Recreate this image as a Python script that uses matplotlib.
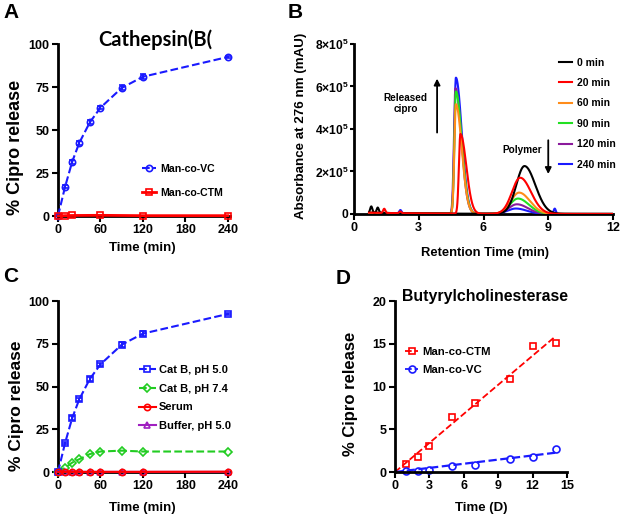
import numpy as np
import matplotlib
matplotlib.use('Agg')
import matplotlib.pyplot as plt
from matplotlib.lines import Line2D

plt.rcParams['font.family'] = ['Liberation Sans', 'DejaVu Sans']
plt.rcParams['font.weight'] = 'bold'
plt.rcParams['mathtext.fontset'] = 'custom'
plt.rcParams['mathtext.rm'] = 'Liberation Sans:bold'
plt.rcParams['mathtext.bf'] = 'Liberation Sans:bold'

# ---- panel A / C : cathepsin B release (time in min)
t_min = [0, 10, 20, 30, 45, 60, 90, 120, 240]
vc_release = [0, 17, 31.5, 42.5, 54.5, 63, 74.5, 81, 92.5]
vc_err = [0, 0.8, 1.2, 1.0, 1.2, 1.0, 1.5, 1.5, 0.8]
t_ctm = [0, 10, 20, 60, 120, 240]
ctm_release = [0, 0.2, 0.3, 0.4, 0.2, 0.2]

catb74 = [0, 2.5, 5.5, 7.5, 10.5, 12, 12.5, 12, 12]
serum = [0, 0.1, 0.1, 0.1, 0.1, 0.1, 0.1, 0.1, 0.2]
buffer = [0, 0.1, 0.1, 0.1, 0.1, 0.1, 0.1, 0.1, 0.1]

# ---- panel B : HPLC traces, peak parameters
trace_labels = ['0 min', '20 min', '60 min', '90 min', '120 min', '240 min']
trace_colors = ['black', 'red', '#ff8c1a', '#22e022', '#8b1a9b', '#1a1aff']
cipro_center = [4.7, 4.93, 4.72, 4.72, 4.7, 4.72]
cipro_height = [0, 3.75e5, 5.15e5, 5.75e5, 5.9e5, 6.4e5]
poly_center = [7.9, 7.7, 7.65, 7.6, 7.55, 7.5]
poly_height = [2.25e5, 1.7e5, 1.0e5, 0.72e5, 0.45e5, 0.25e5]
# small early bumps: (trace index, position, height)
bump_trace = [0, 0, 1, 1, 5, 5]
bump_pos = [0.8, 1.1, 1.4, 2.15, 2.15, 9.3]
bump_height = [3.0e4, 2.5e4, 2.0e4, 0.8e4, 1.5e4, 2.5e4]

# ---- panel D : butyrylcholinesterase (days)
t_day = [1, 2, 3, 5, 7, 10, 12, 14]
ctm_bche = [0.9, 1.8, 3.0, 6.4, 8.1, 10.9, 14.7, 15.1]
vc_bche = [0.1, 0.15, 0.25, 0.65, 0.85, 1.55, 1.8, 2.7]


def style_axis(ax, pad=2):
    for s in ['top', 'right']:
        ax.spines[s].set_visible(False)
    for s in ['left', 'bottom']:
        ax.spines[s].set_linewidth(2)
    ax.tick_params(width=1.5, length=4, labelsize=9, pad=pad)
    for lab in ax.get_xticklabels() + ax.get_yticklabels():
        lab.set_fontweight('bold')


def peak(x, c, h, sl, sr):
    s = np.where(x < c, sl, sr)
    return h * np.exp(-0.5 * ((x - c) / s) ** 2)


def proxy(color, ls, lw, marker, ms=4.5):
    return Line2D([], [], color=color, ls=ls, lw=lw, marker=marker, mfc='none',
                  ms=ms, mew=1.2)


fig = plt.figure(figsize=(6.25, 5.21), dpi=100)

# ================= A
axA = fig.add_axes([0.0928, 0.5854, 0.2752, 0.330])
axA.errorbar(t_min, vc_release, yerr=vc_err, color='#1a1aff', ls='--', lw=1.5,
             marker='o', mfc='none', ms=4.5, mew=1.2, capsize=2,
             clip_on=False, zorder=3)
axA.plot(t_ctm, ctm_release, color='red', ls='-', lw=2, marker='s', mfc='none',
         ms=4.5, mew=1.2, clip_on=False, zorder=4)
axA.set_xlim(0, 243)
axA.set_ylim(0, 100)
axA.set_xticks([0, 60, 120, 180, 240])
axA.set_yticks([0, 25, 50, 75, 100])
axA.set_xlabel('Time (min)', fontsize=9.5, fontweight='bold')
axA.set_ylabel('% Cipro release', fontsize=13, fontweight='bold')
axA.xaxis.set_label_coords(0.49, -0.151)
axA.yaxis.set_label_coords(-0.195, 0.40)
style_axis(axA)
axA.legend([proxy('#1a1aff', '--', 1.5, 'o'), proxy('red', '-', 2, 's')],
           ['Man-co-VC', 'Man-co-CTM'], loc='upper left',
           bbox_to_anchor=(0.49, 0.305), frameon=False,
           fontsize=7.6, handlelength=1.3, handletextpad=0.4, labelspacing=1.35,
           borderpad=0, borderaxespad=0)

# ================= B
axB = fig.add_axes([0.5664, 0.5893, 0.4144, 0.3263])
x = np.linspace(0.7, 12, 1200)
order = [5, 4, 3, 2, 0, 1]
lines_B = {}
for i in order:
    y = peak(x, cipro_center[i], cipro_height[i], 0.07, 0.27)
    y += peak(x, poly_center[i], poly_height[i], 0.38, 0.5)
    y += 6e3 * np.exp(-(x - 0.7) / 3.0)
    for k in range(len(bump_trace)):
        if bump_trace[k] == i:
            y += peak(x, bump_pos[k], bump_height[k], 0.05, 0.05)
    ln, = axB.plot(x, y, color=trace_colors[i], lw=1.5, zorder=3 + order.index(i))
    lines_B[i] = ln
axB.set_xlim(0, 12)
axB.set_ylim(0, 8e5)
axB.set_xticks([0, 3, 6, 9, 12])
axB.set_yticks([0, 2e5, 4e5, 6e5, 8e5])
axB.set_yticklabels(['0', r'$2{\times}10^{5}$', r'$4{\times}10^{5}$',
                     r'$6{\times}10^{5}$', r'$8{\times}10^{5}$'])
axB.set_xlabel('Retention Time (min)', fontsize=9.4, fontweight='bold')
axB.set_ylabel('Absorbance at 276 nm (mAU)', fontsize=9.6, fontweight='bold')
axB.xaxis.set_label_coords(0.505, -0.194)
axB.yaxis.set_label_coords(-0.18, 0.52)
style_axis(axB)
axB.tick_params(axis='y', length=3, pad=1, labelsize=8.7)
axB.legend([lines_B[i] for i in range(6)], trace_labels, loc='upper left',
           bbox_to_anchor=(0.79, 0.92), frameon=False, fontsize=7.5,
           handlelength=1.25, handletextpad=0.5, labelspacing=1.0,
           borderpad=0, borderaxespad=0)
axB.annotate('', xy=(3.85, 6.5e5), xytext=(3.85, 3.7e5),
             arrowprops=dict(arrowstyle='-|>', color='black', lw=1.3,
                             mutation_scale=9))
axB.annotate('', xy=(9.0, 1.75e5), xytext=(9.0, 3.6e5),
             arrowprops=dict(arrowstyle='-|>', color='black', lw=1.3,
                             mutation_scale=9))
axB.text(2.4, 5.2e5, 'Released\ncipro', ha='center', va='center',
         fontsize=7.2, fontweight='bold')
axB.text(7.8, 3.0e5, 'Polymer', ha='center', va='center', fontsize=7.2,
         fontweight='bold')

# ================= C
axC = fig.add_axes([0.0928, 0.094, 0.2752, 0.328])
axC.errorbar(t_min, vc_release, yerr=vc_err, color='#1a1aff', ls='--', lw=1.5,
             marker='s', mfc='none', ms=4.5, mew=1.2, capsize=2,
             clip_on=False, zorder=3)
axC.plot(t_min, catb74, color='#22cc22', ls='--', lw=1.5, marker='D', mfc='none',
         ms=4, mew=1.2, clip_on=False, zorder=3)
axC.plot(t_min, serum, color='red', ls='-', lw=1.5, marker='o', mfc='none',
         ms=4.5, mew=1.2, clip_on=False, zorder=4)
axC.plot(t_min, buffer, color='#a020c0', ls='-', lw=1.5, marker='^', mfc='none',
         ms=4.5, mew=1.2, clip_on=False, zorder=3)
axC.set_xlim(0, 243)
axC.set_ylim(0, 100)
axC.set_xticks([0, 60, 120, 180, 240])
axC.set_yticks([0, 25, 50, 75, 100])
axC.set_xlabel('Time (min)', fontsize=9.5, fontweight='bold')
axC.set_ylabel('% Cipro release', fontsize=12.5, fontweight='bold')
axC.xaxis.set_label_coords(0.49, -0.175)
axC.yaxis.set_label_coords(-0.20, 0.39)
style_axis(axC)
axC.legend([proxy('#1a1aff', '--', 1.5, 's'), proxy('#22cc22', '--', 1.5, 'D', 4),
            proxy('red', '-', 1.5, 'o'), proxy('#a020c0', '-', 1.5, '^')],
           ['Cat B, pH 5.0', 'Cat B, pH 7.4', 'Serum', 'Buffer, pH 5.0'],
           loc='upper left', bbox_to_anchor=(0.47, 0.628), frameon=False,
           fontsize=8, handlelength=1.5, handletextpad=0.3, labelspacing=0.8,
           borderpad=0, borderaxespad=0)

# ================= D
axD = fig.add_axes([0.632, 0.094, 0.2752, 0.328])
td = np.array(t_day, dtype=float)
fit_x = np.array([0, max(t_day)])
hD = []
for yv, col, mk, lw in [(ctm_bche, 'red', 's', 1.3), (vc_bche, '#1a1aff', 'o', 1.6)]:
    yv = np.array(yv)
    slope = np.sum(td * yv) / np.sum(td * td)
    axD.plot(fit_x, slope * fit_x, color=col, ls='--', lw=lw)
    axD.plot(t_day, yv, ls='none', color=col, marker=mk, mfc='none', ms=5,
             mew=1.2, clip_on=False)
    hD.append(proxy(col, '--', 1.3, mk, 5))
axD.set_xlim(0, 15)
axD.set_ylim(0, 20)
axD.set_xticks([0, 3, 6, 9, 12, 15])
axD.set_yticks([0, 5, 10, 15, 20])
axD.set_xlabel('Time (D)', fontsize=9.5, fontweight='bold')
axD.set_ylabel('% Cipro release', fontsize=12, fontweight='bold')
axD.xaxis.set_label_coords(0.5, -0.175)
axD.yaxis.set_label_coords(-0.215, 0.456)
style_axis(axD)
axD.legend(hD, ['Man-co-CTM', 'Man-co-VC'], loc='upper left',
           bbox_to_anchor=(0.06, 0.73), frameon=False,
           fontsize=8.2, handlelength=1.1, handletextpad=0.4, labelspacing=0.65,
           borderpad=0, borderaxespad=0)

# titles and panel letters
fig.text(155 / 625, 1 - 40 / 521, 'Cathepsin(B(', ha='center', va='center',
         fontsize=14.5, fontweight='bold', family=['Lato', 'DejaVu Sans'])
fig.text(485 / 625, 1 - 297 / 521, 'Butyrylcholinesterase', ha='center',
         va='center', fontsize=11.4, fontweight='bold')
for lt, px, py in [('A', 11, 12), ('B', 295, 12), ('C', 11, 277), ('D', 343, 279)]:
    fig.text(px / 625, 1 - py / 521, lt, ha='center', va='center', fontsize=15,
             fontweight='bold')

fig.savefig('out.png', dpi=100)
